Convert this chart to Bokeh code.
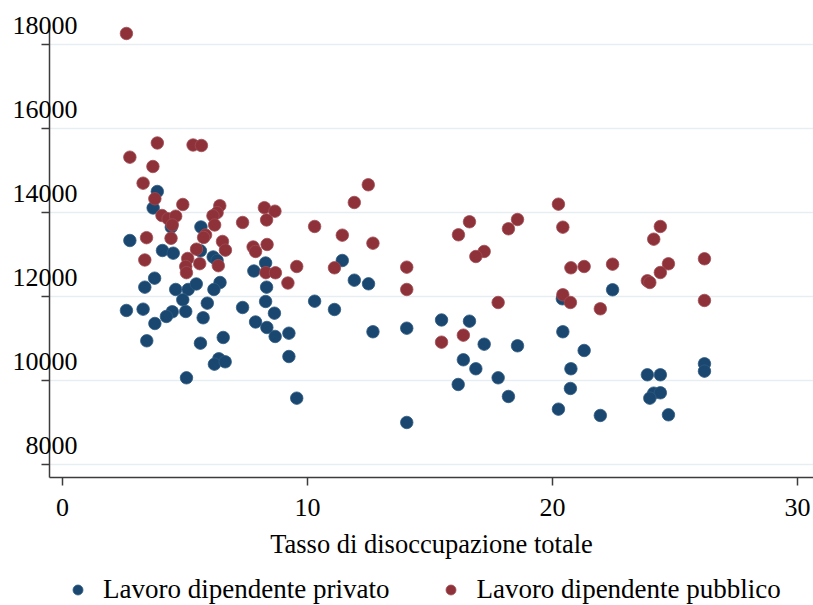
from bokeh.plotting import figure
from bokeh.layouts import column
from bokeh.models import Range1d, FixedTicker, LinearAxis, Legend, LegendItem
from bokeh.embed import file_html
from bokeh.resources import INLINE

# Unemployment rate (%) and average wage, private-sector employees
x_priv = [3.87, 3.70, 4.44, 5.65, 2.75, 4.08, 4.52, 5.63, 6.15, 6.31, 8.29, 7.81,
          3.76, 3.36, 4.62, 5.13, 5.46, 6.43, 6.18, 8.33, 4.91, 5.91, 2.61, 3.29,
          4.48, 4.24, 5.03, 5.74, 7.35, 7.88, 3.77, 3.44, 5.63, 6.56, 6.38, 6.20,
          6.64, 5.06, 11.42, 11.91, 12.49, 8.29, 10.29, 11.10, 8.65, 8.34, 8.68,
          9.24, 12.67, 14.05, 15.47, 9.24, 9.56, 14.05, 22.45, 20.40, 16.61, 17.21,
          18.57, 20.42, 21.29, 16.36, 16.87, 17.78, 20.75, 16.15, 20.73, 18.20,
          20.24, 21.95, 26.20, 26.20, 23.87, 24.40, 24.13, 24.40, 23.97, 24.73]
y_priv = [14500, 14107, 13650, 13655, 13333, 13095, 13031, 13088, 12941, 12857, 12798, 12607,
          12436, 12222, 12167, 12167, 12298, 12333, 12167, 12222, 11921, 11841, 11667, 11698,
          11636, 11524, 11643, 11493, 11738, 11393, 11357, 10945, 10888, 11024, 10517, 10388,
          10445, 10064, 12857, 12388, 12302, 11881, 11888, 11690, 11602, 11262, 11048,
          11126, 11160, 11245, 11441, 10571, 9579, 9000, 12160, 11945, 11412, 10864,
          10826, 11160, 10714, 10493, 10279, 10064, 10279, 9905, 9810, 9619,
          9317, 9167, 10398, 10222, 10136, 10136, 9698, 9707, 9579, 9183]

# Unemployment rate (%) and average wage, public-sector employees
x_pubb = [2.61, 3.87, 2.75, 5.33, 5.67, 3.69, 3.29, 3.77, 4.91, 4.06, 4.31, 4.62,
          4.48, 6.42, 6.31, 6.14, 6.21, 7.35, 5.84, 5.76, 4.43, 3.43, 6.53, 6.65,
          8.24, 8.67, 8.33, 8.35, 7.78, 7.88, 5.47, 5.11, 5.03, 5.06, 5.60, 3.36,
          6.36, 8.30, 8.69, 9.20, 12.48, 11.91, 10.29, 11.42, 12.67, 9.56, 11.10,
          14.05, 14.05, 15.47, 20.24, 16.61, 16.16, 18.57, 18.20, 20.42, 17.21,
          16.87, 20.75, 21.29, 22.45, 20.42, 20.73, 21.95, 17.78, 16.36, 24.40,
          24.13, 24.73, 24.40, 23.87, 23.97, 26.20, 26.20]
y_pubb = [18262, 15655, 15317, 15607, 15595, 15095, 14698, 14326, 14191, 13929, 13850, 13912,
          13702, 14162, 13995, 13922, 13702, 13762, 13464, 13405, 13386, 13400, 13310, 13103,
          14114, 14031, 13822, 13238, 13179, 13072, 13126, 12905, 12714, 12567, 12781, 12869,
          12733, 12567, 12565, 12321, 14660, 14238, 13667, 13460, 13269, 12714, 12683,
          12698, 12167, 10912, 14198, 13779, 13469, 13833, 13612, 13650, 13072,
          12952, 12683, 12714, 12769, 12041, 11857, 11707, 11857, 11079, 13667,
          13364, 12779, 12571, 12374, 12333, 12898, 11905]

x_ticks = [0, 10, 20, 30]
y_ticks = [8000, 10000, 12000, 14000, 16000, 18000]
x_title = "Tasso di disoccupazione totale"
series_names = ["Lavoro dipendente privato", "Lavoro dipendente pubblico"]

FONT = "Liberation Serif"
BLUE, BLUE_EDGE = "#1a476f", "#2f5a82"
RED, RED_EDGE = "#8e3139", "#a04d54"
AXIS = "#3c3c3c"
WIDTH = 813

Y0, Y1 = 7690, 18476
TOP, BOTTOM, HEIGHT = 24, 98, 575
LEGEND_H = 30

p = figure(width=WIDTH, height=HEIGHT, output_backend="svg", toolbar_location=None,
           x_range=Range1d(-0.53, 30.65), y_range=Range1d(Y0, Y1),
           min_border_left=49, min_border_right=0, min_border_top=TOP,
           min_border_bottom=BOTTOM)
p.outline_line_color = None
p.background_fill_color = "white"
p.border_fill_color = "white"

# grid: horizontal lines only
p.xgrid.visible = False
p.ygrid.ticker = FixedTicker(ticks=y_ticks)
p.ygrid.grid_line_color = "#e6eef1"
p.ygrid.grid_line_width = 1.5

# x axis
p.xaxis.ticker = FixedTicker(ticks=x_ticks)
p.xaxis.axis_label = x_title
p.xaxis.axis_label_text_font = FONT
p.xaxis.axis_label_text_font_size = "26.5px"
p.xaxis.axis_label_text_font_style = "normal"
p.xaxis.axis_label_text_color = "black"
p.xaxis.axis_label_standoff = 10
p.xaxis.major_label_text_font = FONT
p.xaxis.major_label_text_font_size = "26px"
p.xaxis.major_label_text_color = "black"
p.xaxis.major_label_standoff = 13
p.xaxis.major_tick_in = 0
p.xaxis.major_tick_out = 8
p.xaxis.minor_tick_line_color = None
p.xaxis.axis_line_color = AXIS
p.xaxis.axis_line_width = 1.5
p.xaxis.major_tick_line_color = AXIS
p.xaxis.major_tick_line_width = 1.5

# y axis: line and tick marks only (its own labels are not painted)
p.yaxis.ticker = FixedTicker(ticks=y_ticks)
p.yaxis.major_label_text_font_size = "1px"
p.yaxis.major_label_text_color = None
p.yaxis.major_label_standoff = 0
p.yaxis.major_tick_in = 0
p.yaxis.major_tick_out = 8
p.yaxis.minor_tick_line_color = None
p.yaxis.axis_line_color = AXIS
p.yaxis.axis_line_width = 1.5
p.yaxis.major_tick_line_color = AXIS
p.yaxis.major_tick_line_width = 1.5

# y tick labels sit raised above their tick, overlapping the axis line
lift_px = 19.3
frame_h = HEIGHT - TOP - BOTTOM
lift = lift_px * (Y1 - Y0) / frame_h
label_axis = LinearAxis(
    ticker=FixedTicker(ticks=[t + lift for t in y_ticks]),
    major_label_overrides={t + lift: str(t) for t in y_ticks},
    axis_line_color=None, major_tick_line_color=None, minor_tick_line_color=None,
    major_tick_in=0, major_tick_out=0, major_label_standoff=-36,
    major_label_text_font=FONT, major_label_text_font_size="26px",
    major_label_text_color="black")
p.add_layout(label_axis, "left")

r_priv = p.scatter(x_priv, y_priv, size=12.5, fill_color=BLUE, line_color=BLUE_EDGE,
                   line_width=0.8)
r_pubb = p.scatter(x_pubb, y_pubb, size=12.5, fill_color=RED, line_color=RED_EDGE,
                   line_width=0.8)

# legend strip under the chart; its ranges keep the series out of view so
# only the legend keys are painted
lg = figure(width=WIDTH, height=LEGEND_H, output_backend="svg", toolbar_location=None,
            x_range=Range1d(-2, -1), y_range=Range1d(0, 1),
            x_axis_location=None, y_axis_location=None,
            min_border_left=0, min_border_right=0, min_border_top=0, min_border_bottom=0)
lg.outline_line_color = None
lg.grid.visible = False
k_priv = lg.scatter(x_priv, y_priv, fill_color=BLUE, line_color=BLUE_EDGE, line_width=0.8)
k_pubb = lg.scatter(x_pubb, y_pubb, fill_color=RED, line_color=RED_EDGE, line_width=0.8)

legend = Legend(items=[LegendItem(label=series_names[0], renderers=[k_priv]),
                       LegendItem(label=series_names[1], renderers=[k_pubb])],
                location=(16, 0), orientation="horizontal",
                glyph_width=25, glyph_height=25, label_standoff=13,
                padding=0, margin=0, spacing=49,
                border_line_color=None, background_fill_alpha=0,
                label_text_font=FONT, label_text_font_size="27px",
                label_text_color="black")
lg.add_layout(legend)

page = column(p, lg, spacing=0)
open("out.html", "w").write(file_html(page, INLINE))
